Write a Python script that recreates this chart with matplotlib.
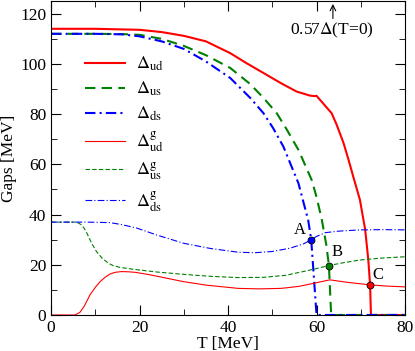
import matplotlib
matplotlib.use("Agg")
import matplotlib.pyplot as plt
from matplotlib.ticker import MultipleLocator

plt.rcParams['font.family'] = ['Liberation Serif', 'DejaVu Serif']
plt.rcParams['mathtext.fontset'] = 'stix'

# thick lines: the three gaps
T_ud = [0, 10, 20, 25, 30, 35, 40.5, 44, 48, 52, 55.5, 57, 58.5, 59.5, 60, 63.4, 64.5, 66.1, 67.2, 68.3, 69.8, 71, 71.7, 72.1, 72.3, 80]
ud = [114, 114, 113.6, 112.7, 111.2, 109, 104.3, 100.5, 96.4, 92.3, 89, 88.2, 87.4, 87.2, 87.3, 80.4, 76, 68.5, 62, 55.1, 45.9, 33.9, 21.9, 12, 0, 0]

T_us = [0, 10, 16, 20, 25, 30, 35, 40.5, 45, 48, 51, 53.3, 55.9, 58.9, 60, 61.2, 62.2, 62.8, 63.3, 80]
us = [112, 112, 111.9, 111.6, 110, 107.2, 103.5, 98.4, 92, 86.5, 80.4, 73.8, 65.8, 53.8, 47, 37.9, 28, 19.7, 0, 0]

T_ds = [0, 10, 16, 20, 25, 30, 35, 40.5, 45, 48, 50.2, 52.5, 55.9, 58.1, 58.8, 59.4, 60, 80]
ds = [112, 112, 111.8, 111, 109, 106, 101, 94.4, 86.5, 80.4, 74.4, 67.1, 52.5, 37.9, 29.9, 15, 0, 0]

# thin lines: the gaps with g
T_gud = [0, 5.4, 6.5, 7.5, 8.8, 10, 11.1, 12.2, 13.3, 14.5, 16, 17.5, 19, 22.4, 26, 29.9, 35, 42.3, 47, 52, 56, 59.3, 63, 67, 72.1, 76, 80]
gud = [0, 0, 1, 3.5, 8, 11, 13.3, 15, 16.3, 17, 17.3, 17.2, 17, 16, 14.7, 13.3, 11.9, 10.6, 10.4, 10.6, 11.4, 12.6, 14, 13, 12, 11.5, 11.2]

T_gus = [0, 5.8, 6.8, 7.5, 8.1, 9.2, 10.3, 11.6, 13, 14, 15.5, 18.6, 24, 29.9, 36, 42.3, 48, 53, 57, 60, 62.8, 66, 69.8, 75, 80]
gus = [37, 37, 36, 34.5, 32.6, 28.5, 25.2, 22.5, 20.6, 19.7, 19, 18.2, 17.1, 16.2, 15.4, 14.9, 15, 15.8, 17.3, 18.5, 19.7, 20.8, 21.9, 22.7, 23.2]

T_gds = [0, 8, 13.3, 16, 19.4, 24, 29.9, 36, 42.3, 46, 50, 54, 57, 58.8, 60, 62, 65, 69.8, 75, 80]
gds = [37, 37, 36.8, 36, 34.6, 31.8, 28.6, 26.5, 25, 24.8, 25.3, 26.6, 28.3, 29.9, 31.3, 32.8, 33.4, 33.9, 34, 33.9]

# crossing points
pts_T = [58.8, 62.8, 72.1]
pts_y = [29.9, 19.7, 12]
pts_lab = ['A', 'B', 'C']
pts_col = ['blue', 'green', 'red']

fig = plt.figure(figsize=(4.15, 3.51), dpi=100)
ax = fig.add_axes([0.123, 0.1026, 0.853, 0.894])

ax.plot(T_ud, ud, color='red', lw=1.5, label=r'$\Delta_{\rm ud}$')
ax.plot(T_us, us, color='green', lw=1.5, ls=(0, (5, 3)), label=r'$\Delta_{\rm us}$')
ax.plot(T_ds, ds, color='blue', lw=1.5, ls=(0, (5, 2, 1, 2)), label=r'$\Delta_{\rm ds}$')
ax.plot(T_gud, gud, color='red', lw=0.8, label=r'$\Delta^{\rm g}_{\rm ud}$')
ax.plot(T_gus, gus, color='green', lw=0.8, ls=(0, (4, 2)), label=r'$\Delta^{\rm g}_{\rm us}$')
ax.plot(T_gds, gds, color='blue', lw=0.8, ls=(0, (6, 2, 1, 2)), label=r'$\Delta^{\rm g}_{\rm ds}$')

for t, y, lab, c in zip(pts_T, pts_y, pts_lab, pts_col):
    ax.plot(t, y, 'o', ms=5, mfc=c, mec='black', mew=0.6, zorder=5)
offs = {'A': (-2.5, 0.6, 'center'), 'B': (0.5, 2.2, 'left'), 'C': (0.6, 0.8, 'left')}
for t, y, lab in zip(pts_T, pts_y, pts_lab):
    dx, dy, ha = offs[lab]
    ax.text(t + dx, y + dy, lab, fontsize=12, ha=ha, va='bottom')

ax.annotate('', xy=(63.7, 125), xytext=(63.7, 117), xycoords='data',
            arrowprops=dict(arrowstyle='->', lw=0.8, color='black'), annotation_clip=False)
ax.text(63.5, 113.5, r'0.57$\Delta$(T=0)', fontsize=12.5, ha='center', va='center')

ax.set_xlim(0, 80)
ax.set_ylim(0, 125)
ax.xaxis.set_major_locator(MultipleLocator(20))
ax.xaxis.set_minor_locator(MultipleLocator(10))
ax.yaxis.set_major_locator(MultipleLocator(20))
ax.yaxis.set_minor_locator(MultipleLocator(10))
ax.tick_params(which='both', direction='in', top=True, right=True, labelsize=12.5)
ax.tick_params(which='major', length=7)
ax.tick_params(which='minor', length=4)
ax.set_xlabel('T [MeV]', fontsize=12.5, labelpad=0)
ax.set_ylabel('Gaps [MeV]', fontsize=12.5, labelpad=2)

ax.legend(loc='upper left', bbox_to_anchor=(0.05, 0.88), frameon=False, fontsize=13,
          handlelength=2.2, labelspacing=0.36, handletextpad=0.6)

fig.savefig('out.png', dpi=100)
